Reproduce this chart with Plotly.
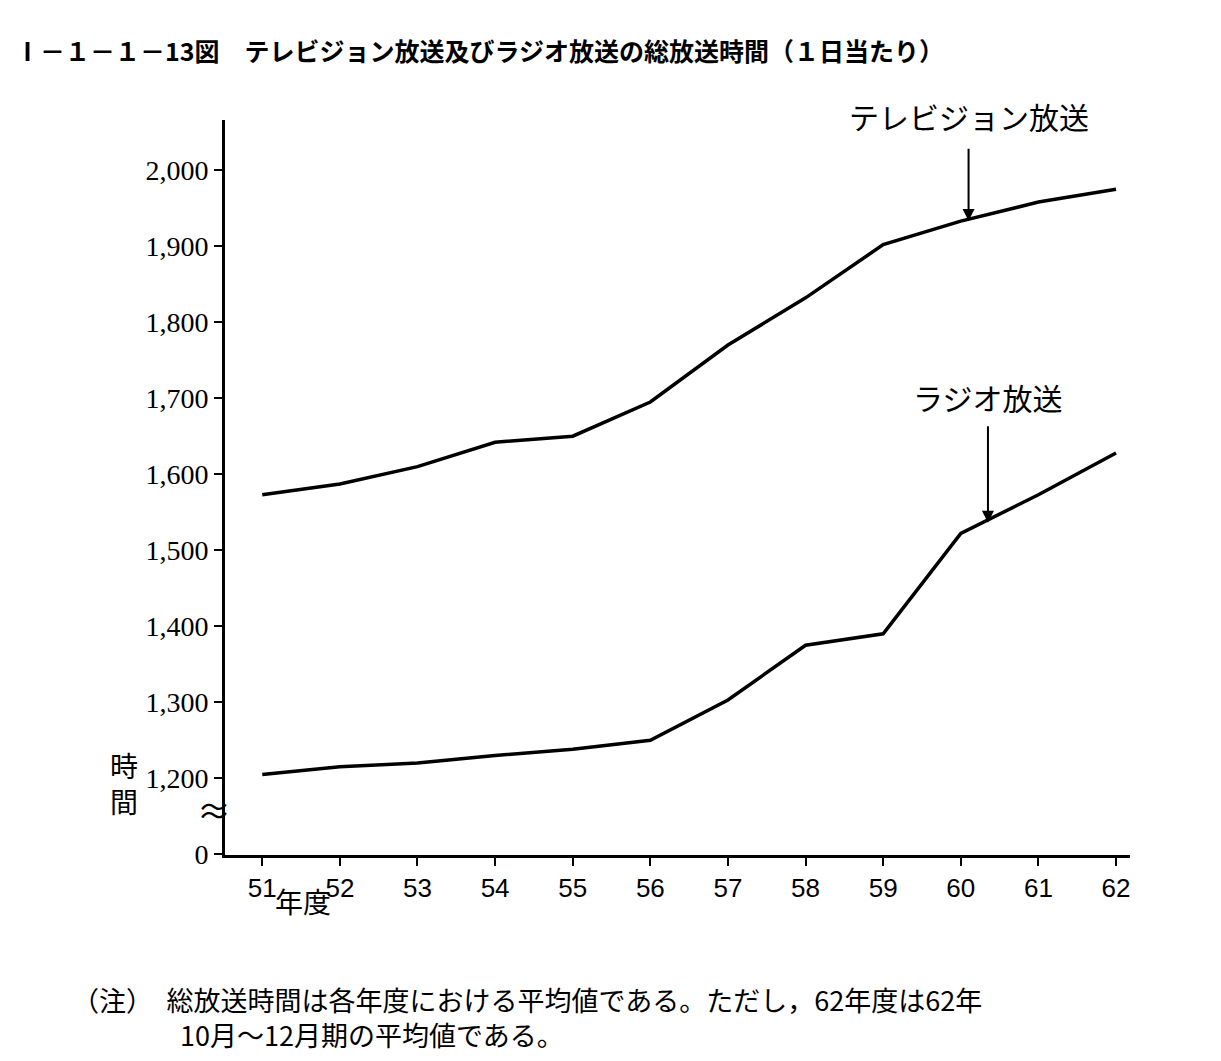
import plotly.graph_objects as go

years = [51, 52, 53, 54, 55, 56, 57, 58, 59, 60, 61, 62]
tv = [1573, 1587, 1610, 1642, 1650, 1695, 1770, 1832, 1902, 1933, 1958, 1975]
radio = [1205, 1215, 1220, 1230, 1238, 1250, 1303, 1375, 1390, 1522, 1573, 1628]
ytick_vals = [1100, 1200, 1300, 1400, 1500, 1600, 1700, 1800, 1900, 2000]
ytick_text = ["0", "1,200", "1,300", "1,400", "1,500", "1,600", "1,700", "1,800", "1,900", "2,000"]

F = "Noto Sans CJK JP"
fig = go.Figure()
for s in (tv, radio):
    fig.add_trace(go.Scatter(x=years, y=s, mode="lines", line=dict(color="black", width=3.5),
                             showlegend=False))

L, R, T, B = 217, 99, 112, 214
PW, PH = 1221 - L - R, 1061 - T - B
fig.update_layout(
    width=1221, height=1061, paper_bgcolor="white", plot_bgcolor="white",
    margin=dict(l=L, r=R, t=T, b=B, autoexpand=False),
    font=dict(family=F, color="black", size=26),
    xaxis=dict(range=[50.52, 62.18], tickvals=years, ticktext=[str(y) for y in years],
               showgrid=False, zeroline=False, showline=True, linecolor="black", linewidth=3,
               ticks="outside", ticklen=8, tickwidth=2, tickcolor="black",
               tickfont=dict(size=26, family="Liberation Sans")),
    yaxis=dict(range=[1099, 2066], tickvals=ytick_vals, ticktext=ytick_text,
               showgrid=False, zeroline=False, showline=True, linecolor="black", linewidth=3,
               ticks="outside", ticklen=8, tickwidth=2, tickcolor="black",
               tickfont=dict(size=28, family="Liberation Serif")),
)

def px(xp): return (xp - L) / PW
def py(yp): return (1061 - B - yp) / PH

def ann(**k):
    fig.add_annotation(**k)

ann(x=px(5), y=py(42), xref="paper", yref="paper", xanchor="left", yanchor="middle", showarrow=False,
    text="<b>Ⅰ－１－１－13図　テレビジョン放送及びラジオ放送の総放送時間（１日当たり）</b>",
    font=dict(size=25))

ann(x=60.1, y=1933, ax=60.1, ay=2030, axref="x", ayref="y", showarrow=True, arrowhead=2,
    arrowsize=1.2, arrowwidth=2, arrowcolor="black", text="")
ann(x=60.1, y=2040, text="テレビジョン放送", showarrow=False, yanchor="bottom", font=dict(size=30))
ann(x=60.35, y=1536, ax=60.35, ay=1665, axref="x", ayref="y", showarrow=True, arrowhead=2,
    arrowsize=1.2, arrowwidth=2, arrowcolor="black", text="")
ann(x=60.35, y=1670, text="ラジオ放送", showarrow=False, yanchor="bottom", font=dict(size=30))

ann(x=px(100), y=py(815), xref="paper", yref="paper", showarrow=False,
    text="時<br>間", font=dict(size=28))
ann(x=px(225), y=py(828), xref="paper", yref="paper", showarrow=False,
    text="≈", font=dict(size=34), xanchor="right")
ann(x=px(265), y=py(915), xref="paper", yref="paper", showarrow=False, text="年度",
    font=dict(size=28))
ann(x=px(62), y=py(970), xref="paper", yref="paper", xanchor="left", yanchor="top", showarrow=False,
    align="left",
    text="（注）　総放送時間は各年度における平均値である。ただし，62年度は62年<br>　　　　10月～12月期の平均値である。",
    font=dict(size=27))

fig.write_html("out.html")
